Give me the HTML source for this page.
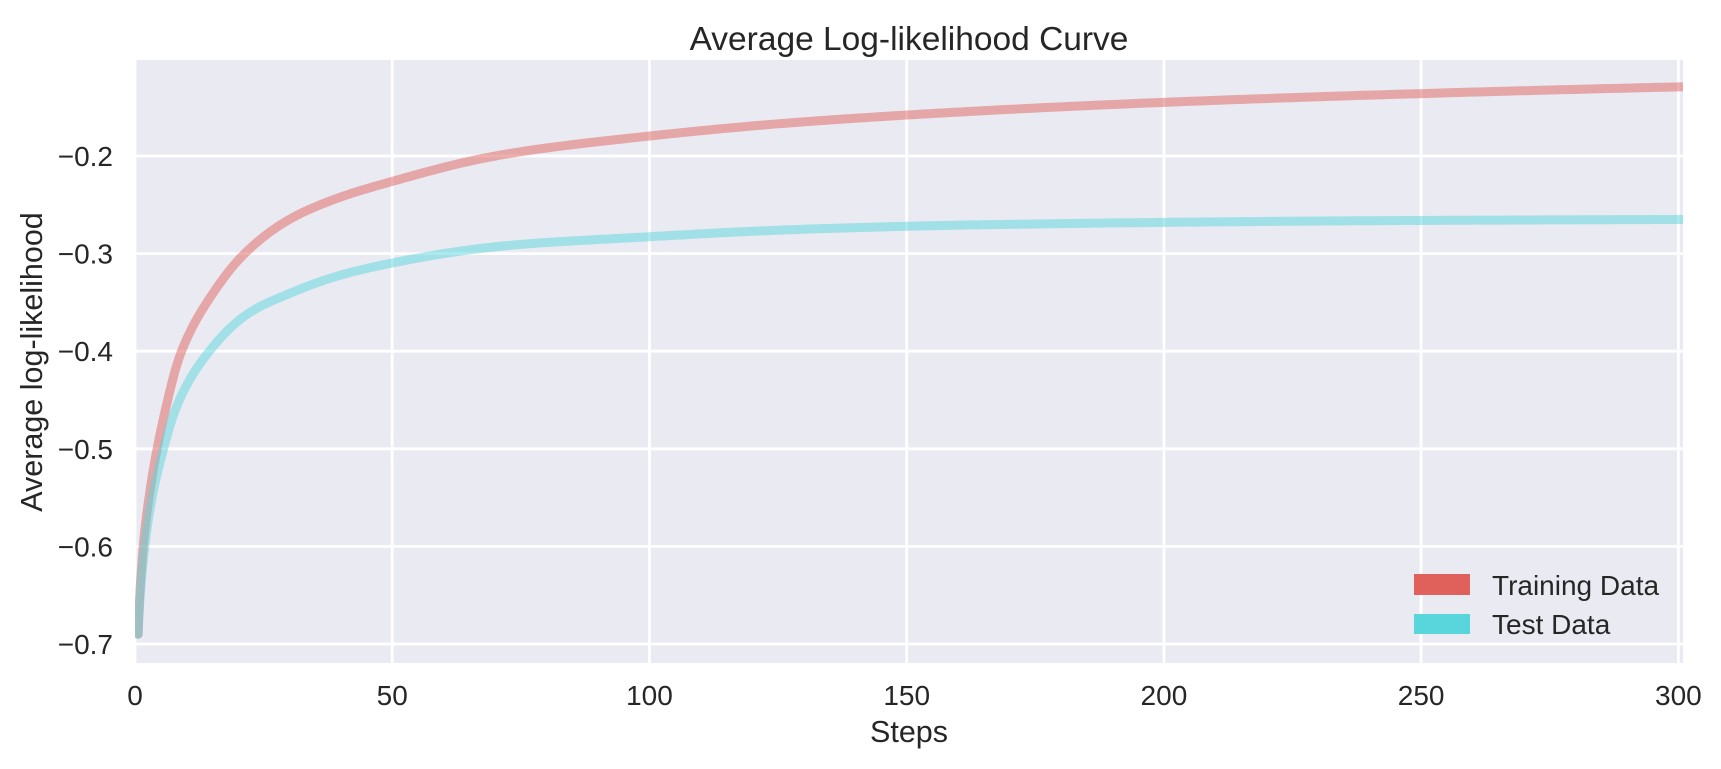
<!DOCTYPE html>
<html><head><meta charset="utf-8">
<style>
html,body{margin:0;padding:0;background:#fff;}
svg{display:block;font-family:"Liberation Sans",Arial,sans-serif;}
</style></head>
<body>
<svg id="chart" width="1721" height="769" viewBox="0 0 1721 769">
<rect x="135" y="60" width="1548" height="603" fill="#eaeaf2"/>
<g id="grid"></g>
<g id="series"></g>
<g id="ticks"></g>
<text x="909" y="50" font-size="33.5" fill="#262626" text-anchor="middle">Average Log-likelihood Curve</text>
<text x="909" y="742" font-size="30.5" fill="#262626" text-anchor="middle">Steps</text>
<text transform="translate(42,362) rotate(-90)" font-size="30.5" fill="#262626" text-anchor="middle">Average log-likelihood</text>
<g>
<rect x="1414" y="574" width="56" height="21" fill="#e0615b"/>
<text x="1492" y="595" font-size="28" fill="#262626">Training Data</text>
<rect x="1414" y="614" width="56" height="20" fill="#59d5dc"/>
<text x="1492" y="634" font-size="28" fill="#262626">Test Data</text>
</g>
</svg>
<script>
const steps = [0.6, 1.6, 3, 4.3, 6, 8.7, 11, 14.6, 21.3, 30, 40, 50, 70, 100, 125, 150, 200, 250, 301];
const trainValues = [-0.69, -0.6, -0.54, -0.5, -0.458, -0.405, -0.377, -0.345, -0.3, -0.265, -0.242, -0.226, -0.2, -0.1795, -0.167, -0.158, -0.145, -0.136, -0.129];
const testSteps = [0.6, 1.9, 3.5, 5.3, 8, 14, 22.4, 29.5, 40, 50, 70, 100, 125, 150, 200, 250, 301];
const testValues = [-0.69, -0.6, -0.545, -0.505, -0.458, -0.403, -0.36, -0.342, -0.322, -0.3096, -0.293, -0.2827, -0.276, -0.272, -0.268, -0.266, -0.265];
const xTicks = [0, 50, 100, 150, 200, 250, 300];
const yTicks = [-0.2, -0.3, -0.4, -0.5, -0.6, -0.7];
const yTickLabels = ["\u22120.2", "\u22120.3", "\u22120.4", "\u22120.5", "\u22120.6", "\u22120.7"];

const NS = "http://www.w3.org/2000/svg";
const X0 = 135, X1 = 1683, Y0 = 60, Y1 = 663;
const xMin = 0, xMax = 300.9, yMin = -0.7195, yMax = -0.1016;
function sx(v){ return X0 + (v - xMin) / (xMax - xMin) * (X1 - X0); }
function sy(v){ return Y1 - (v - yMin) / (yMax - yMin) * (Y1 - Y0); }
function mk(tag, attrs, parent){ const e = document.createElementNS(NS, tag); for (const k in attrs) e.setAttribute(k, attrs[k]); parent.appendChild(e); return e; }

const grid = document.getElementById('grid');
const ticks = document.getElementById('ticks');
xTicks.forEach((t) => {
  const l = mk('line', {x1: sx(t), x2: sx(t), y1: Y0, y2: Y1, stroke: '#fff', 'stroke-width': 2.8}, grid);
  
  
  const tx = mk('text', {x: sx(t), y: 705, 'font-size': 28, fill: '#262626', 'text-anchor': 'middle'}, ticks);
  tx.textContent = String(t);
  
  
});
yTicks.forEach((t, i) => {
  const l = mk('line', {x1: X0, x2: X1, y1: sy(t), y2: sy(t), stroke: '#fff', 'stroke-width': 2.8}, grid);
  
  
  const tx = mk('text', {x: 113, y: sy(t) + 10, 'font-size': 28, fill: '#262626', 'text-anchor': 'end'}, ticks);
  tx.textContent = yTickLabels[i];
  
  
});

// cubic Hermite interpolation in log(step) space with averaged slopes, sampled densely
function smoothPath(xs, ys){
  const u = xs.map(Math.log), n = u.length;
  const d = [], m = [];
  for (let i = 0; i < n - 1; i++) d.push((ys[i+1] - ys[i]) / (u[i+1] - u[i]));
  m[0] = d[0]; m[n-1] = d[n-2];
  for (let i = 1; i < n - 1; i++) {
    const w1 = u[i+1] - u[i], w0 = u[i] - u[i-1];
    m[i] = (d[i-1] * w1 + d[i] * w0) / (w0 + w1);
  }
  let s = 'M' + sx(xs[0]).toFixed(2) + ',' + sy(ys[0]).toFixed(2);
  for (let i = 0; i < n - 1; i++) {
    const h = u[i+1] - u[i], N = 30;
    for (let k = 1; k <= N; k++) {
      const t = k / N, t2 = t*t, t3 = t2*t;
      const v = (2*t3 - 3*t2 + 1) * ys[i] + (t3 - 2*t2 + t) * h * m[i] + (-2*t3 + 3*t2) * ys[i+1] + (t3 - t2) * h * m[i+1];
      const x = Math.exp(u[i] + t * h);
      s += ' L' + sx(x).toFixed(2) + ',' + sy(v).toFixed(2);
    }
  }
  return s;
}
const series = document.getElementById('series');
const clip = mk('clipPath', {id: 'pc'}, mk('defs', {}, series));
mk('rect', {x: X0, y: Y0, width: X1 - X0, height: Y1 - Y0}, clip);
const tr = mk('path', {d: smoothPath(steps, trainValues), fill: 'none', stroke: '#e0615b', 'stroke-opacity': 0.5, 'stroke-width': 9, 'stroke-linecap': 'round', 'stroke-linejoin': 'round', 'clip-path': 'url(#pc)'}, series);


const te = mk('path', {d: smoothPath(testSteps, testValues), fill: 'none', stroke: '#59d5dc', 'stroke-opacity': 0.5, 'stroke-width': 9, 'stroke-linecap': 'round', 'stroke-linejoin': 'round', 'clip-path': 'url(#pc)'}, series);


</script>
</body></html>
